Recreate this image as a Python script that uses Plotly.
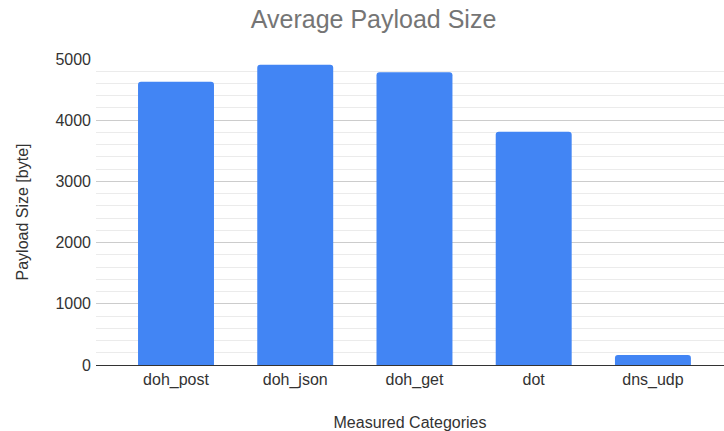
import plotly.graph_objects as go

# Average payload size per transport
categories = ["doh_post", "doh_json", "doh_get", "dot", "dns_udp"]
payload_bytes = [4630, 4905, 4785, 3810, 165]

y_ticks = [0, 1000, 2000, 3000, 4000, 5000]

FONT = "Liberation Sans, Arial, sans-serif"

fig = go.Figure(
    go.Bar(
        x=categories,
        y=payload_bytes,
        marker=dict(color="#4285F4", cornerradius=3, line=dict(width=0)),
        hoverinfo="x+y",
    )
)

fig.update_layout(
    width=724,
    height=431,
    margin=dict(l=96, r=0, t=59, b=66),
    paper_bgcolor="white",
    plot_bgcolor="white",
    bargap=0.363,
    showlegend=False,
    font=dict(family=FONT, size=16, color="#444444"),
    title=dict(
        text="Average Payload Size",
        font=dict(family=FONT, size=25, color="#757575"),
        xref="container",
        x=0.516,
        xanchor="center",
        yref="container",
        y=0.955,
        yanchor="middle",
    ),
)

fig.update_xaxes(
    range=[-0.671, 4.596],
    showgrid=False,
    showline=True,
    linecolor="#333333",
    linewidth=1,
    ticks="",
    tickfont=dict(size=16, color="#333333"),
    title=dict(text="Measured Categories", font=dict(size=16, color="#333333"), standoff=28),
)

fig.update_yaxes(
    range=[0, 5000],
    tickvals=y_ticks,
    ticktext=[str(v) for v in y_ticks],
    showgrid=True,
    gridcolor="#cccccc",
    gridwidth=1,
    minor=dict(dtick=200, showgrid=True, gridcolor="#ebebeb", gridwidth=1),
    zeroline=False,
    showline=False,
    ticks="",
    ticklabelstandoff=4,
    tickfont=dict(size=16, color="#333333"),
    title=dict(text="Payload Size [byte]", font=dict(size=16, color="#333333"), standoff=22),
)

fig.write_html("out.html")
